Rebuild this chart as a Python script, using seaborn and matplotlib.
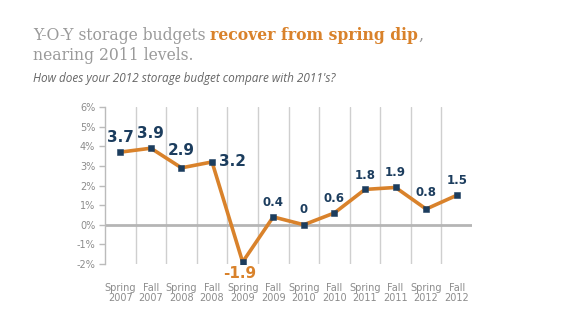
import matplotlib
matplotlib.use("Agg")
import matplotlib.pyplot as plt
import seaborn as sns
import pandas as pd

periods = ["Spring\n2007", "Fall\n2007", "Spring\n2008", "Fall\n2008", "Spring\n2009", "Fall\n2009",
           "Spring\n2010", "Fall\n2010", "Spring\n2011", "Fall\n2011", "Spring\n2012", "Fall\n2012"]
values = [3.7, 3.9, 2.9, 3.2, -1.9, 0.4, 0.0, 0.6, 1.8, 1.9, 0.8, 1.5]
value_labels = ["3.7", "3.9", "2.9", "3.2", "-1.9", "0.4", "0", "0.6", "1.8", "1.9", "0.8", "1.5"]
yticks = [-2, -1, 0, 1, 2, 3, 4, 5, 6]

sns.set_theme(style="white")
plt.rcParams['font.family'] = ['DejaVu Sans']

ORANGE = "#D9822B"
NAVY = "#1C3D5E"
GRAY = "#8C8C8C"

fig = plt.figure(figsize=(5.8, 3.25), dpi=100)
ax = fig.add_axes([105/580, 1-264/325, (472-105)/580, (264-107)/325])

df = pd.DataFrame({"x": range(len(values)), "v": values})
sns.lineplot(data=df, x="x", y="v", ax=ax, color=ORANGE, lw=2.6, zorder=3)
sns.scatterplot(data=df, x="x", y="v", ax=ax, color=NAVY, marker="s", s=22, zorder=4, edgecolor=NAVY)

ax.set_xlim(-0.5, len(values) - 0.5)
ax.set_ylim(-2, 6)
for k in range(len(values) - 1):
    ax.axvline(k + 0.5, color="#CFCFCF", lw=1, zorder=1)
ax.axhline(0, color="#B5B5B5", lw=2, zorder=2)

ax.set_yticks(yticks)
ax.set_yticklabels([f"{t}%" for t in yticks], fontsize=7, color=GRAY)
ax.set_xticks(range(len(periods)))
ax.set_xticklabels(periods, fontsize=7, color=GRAY, linespacing=0.95)
ax.tick_params(axis="x", length=0, pad=14)
ax.tick_params(axis="y", length=4, color="#BBBBBB", width=1, direction="out", pad=3, left=True)
for s in ["top", "right", "bottom"]:
    ax.spines[s].set_visible(False)
ax.spines["left"].set_color("#BBBBBB")
ax.spines["left"].set_linewidth(1)
ax.set_xlabel("")
ax.set_ylabel("")

# label offsets in points (dx, dy)
offsets = [(0, 5), (0, 5), (0, 7), (5, 0), (-2, -3), (0, 6), (0, 6), (0, 6), (0, 5), (0, 6), (0, 7), (0, 6)]
for i, (v, lab) in enumerate(zip(values, value_labels)):
    big = i < 5
    dx, dy = offsets[i]
    if dx > 0:
        ha, va = "left", "center"
    else:
        ha = "center"
        va = "bottom" if dy > 0 else "top"
    ax.annotate(lab, (i, v), xytext=(dx, dy), textcoords="offset points",
                ha=ha, va=va, fontsize=11 if big else 8.5, fontweight="bold",
                color=ORANGE if v < 0 else NAVY, zorder=5)

# title with mixed colours
renderer = fig.canvas.get_renderer()
tfont = dict(fontsize=12.5, family="DejaVu Serif", fontstretch="condensed")
x0 = 33 / 580
y1 = 1 - 40 / 325
t1 = fig.text(x0, y1, "Y-O-Y storage budgets ", color="#9A9A9A", **tfont)
bb = t1.get_window_extent(renderer)
t2 = fig.text(bb.x1 / fig.bbox.width, y1, "recover from spring dip", color=ORANGE, fontweight="bold", **tfont)
bb2 = t2.get_window_extent(renderer)
fig.text(bb2.x1 / fig.bbox.width, y1, ",", color="#9A9A9A", **tfont)
fig.text(x0, 1 - 60 / 325, "nearing 2011 levels.", color="#9A9A9A", **tfont)
fig.text(x0, 1 - 82 / 325, "How does your 2012 storage budget compare with 2011's?", color="#666666",
         fontsize=8.5, style="italic", family="Open Sans")

fig.savefig("out.png", dpi=100)
